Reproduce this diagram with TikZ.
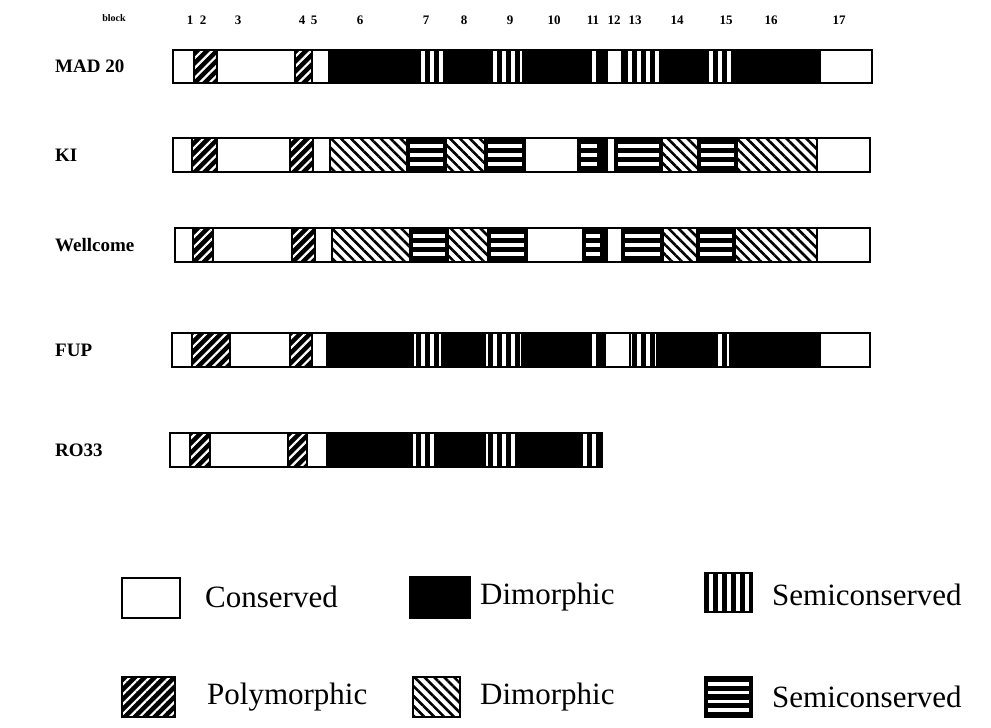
\documentclass[tikz,border=0pt]{standalone}
\usepackage{fontspec}
\setmainfont{Liberation Serif}
\usetikzlibrary{patterns.meta}

\begin{document}
\begin{tikzpicture}[x=1pt, y=-1pt,
    cons/.style={fill=white, draw, line width=1.2pt},
    dimo/.style={fill=black, draw, line width=1.2pt},
    poly/.style={preaction={fill=black}, pattern={Lines[angle=45,distance=7pt,line width=2.2pt]}, pattern color=white, draw, line width=1.2pt},
    dhat/.style={preaction={fill=white}, pattern={Lines[angle=-45,distance=7pt,line width=2.6pt]}, pattern color=black, draw, line width=1.2pt},
    vsemi/.style={preaction={fill=black}, pattern={Lines[angle=90,distance=9pt,line width=4pt]}, pattern color=white, draw, line width=1.2pt},
    hsemi/.style={fill=black, draw, line width=1.2pt, path picture={
        \foreach \k in {-9,0,9}
          \draw[white, line width=3.4pt] ([xshift=3pt,yshift=\k pt]path picture bounding box.west) -- ([xshift=-3pt,yshift=\k pt]path picture bounding box.east);}},
    hsemileg/.style={fill=black, draw, line width=1.2pt, path picture={
        \foreach \k in {-13,-4.5,4.5,13}
          \draw[white, line width=3.4pt] ([xshift=3pt,yshift=\k pt]path picture bounding box.west) -- ([xshift=-3pt,yshift=\k pt]path picture bounding box.east);}},
    frame/.style={draw, line width=2.4pt},
    strain/.style={font=\fontsize{19}{22}\selectfont\bfseries, anchor=west, inner sep=0pt},
    num/.style={font=\fontsize{13}{15}\selectfont\bfseries, inner sep=0pt},
    legtxt/.style={font=\fontsize{31}{36}\selectfont, anchor=west, inner sep=0pt}
]
\useasboundingbox[fill=white] (0,0) rectangle (991,728);

\node[num, font=\fontsize{10}{12}\selectfont\bfseries] (blk) at (114,18) {block};
\foreach \n/\x in {1/190,2/203,3/238,4/302,5/314,6/360,7/426,8/464,9/510,10/554,11/593,12/614,13/635,14/677,15/726,16/771,17/839}
  \node[num] (b\n) at (\x,20) {\n};

\node[strain] (mad) at (55,66) {MAD 20};
\foreach \a/\b/\s in {173/194/cons,194/217/poly,217/295/cons,295/312/poly,312/329/cons,329/415/dimo,415/447/vsemi,447/488/dimo,488/523/vsemi,523/588/dimo,588/600/vsemi,600/607/dimo,607/622/cons,622/662/vsemi,662/705/dimo,705/735/vsemi,735/820/dimo,820/872/cons}
  \path[\s] (\a,50) rectangle (\b,83);
\draw[frame] (173,50) rectangle (872,83);

\node[strain] (ki) at (55,155) {KI};
\foreach \a/\b/\s in {173/192/cons,192/217/poly,217/290/cons,290/313/poly,313/330/cons,330/407/dhat,407/446/hsemi,446/485/dhat,485/525/hsemi,525/578/cons,578/600/hsemi,600/607/dimo,607/615/cons,615/662/hsemi,662/698/dhat,698/737/hsemi,737/817/dhat,817/870/cons}
  \path[\s] (\a,138) rectangle (\b,172);
\draw[frame] (173,138) rectangle (870,172);

\node[strain] (well) at (55,245) {Wellcome};
\foreach \a/\b/\s in {175/193/cons,193/213/poly,213/292/cons,292/315/poly,315/332/cons,332/410/dhat,410/448/hsemi,448/488/dhat,488/527/hsemi,527/583/cons,583/603/hsemi,603/607/dimo,607/622/cons,622/663/hsemi,663/697/dhat,697/735/hsemi,735/817/dhat,817/870/cons}
  \path[\s] (\a,228) rectangle (\b,262);
\draw[frame] (175,228) rectangle (870,262);

\node[strain] (fup) at (55,350) {FUP};
\foreach \a/\b/\s in {172/192/cons,192/230/poly,230/290/cons,290/312/poly,312/327/cons,327/413/dimo,413/442/vsemi,442/485/dimo,485/522/vsemi,522/590/dimo,590/600/vsemi,600/605/dimo,605/630/cons,630/657/vsemi,657/713/dimo,713/730/vsemi,730/820/dimo,820/870/cons}
  \path[\s] (\a,333) rectangle (\b,367);
\draw[frame] (172,333) rectangle (870,367);

\node[strain] (ro) at (55,450) {RO33};
\foreach \a/\b/\s in {170/190/cons,190/210/poly,210/288/cons,288/307/poly,307/327/cons,327/412/dimo,412/438/vsemi,438/485/dimo,485/520/vsemi,520/582/dimo,582/597/vsemi,597/602/dimo}
  \path[\s] (\a,433) rectangle (\b,467);
\draw[frame] (170,433) rectangle (602,467);

\path[cons, frame] (122,578) rectangle (180,618);
\node[legtxt] (lcons) at (205,597) {Conserved};
\path[dimo, frame] (410,577) rectangle (470,618);
\node[legtxt] (ldimo) at (480,597) {Dimorphic};
\path[vsemi, frame] (705,573) rectangle (752,612);
\node[legtxt] (lvsemi) at (772,595) {Semiconserved};

\path[poly, frame] (122,677) rectangle (175,717);
\node[legtxt] (lpoly) at (207,697) {Polymorphic};
\path[dhat, frame] (413,677) rectangle (460,717);
\node[legtxt] (ldhat) at (480,697) {Dimorphic};
\path[hsemileg, frame] (705,677) rectangle (752,717);
\node[legtxt] (lhsemi) at (772,697) {Semiconserved};
\end{tikzpicture}
\end{document}
